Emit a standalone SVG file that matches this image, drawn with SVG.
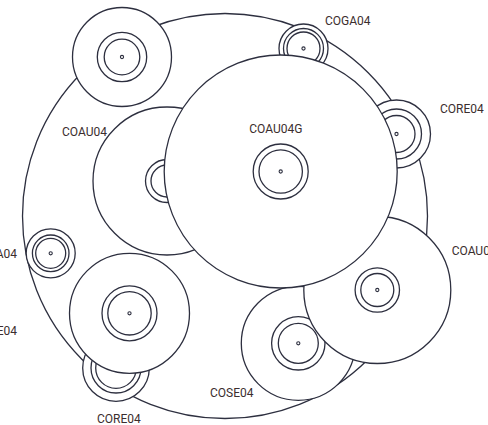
<svg xmlns="http://www.w3.org/2000/svg" width="488" height="425" viewBox="0 0 488 425">
<style>
.c{fill:#fff;stroke:#2d2f3f;stroke-width:1.3}
.d{fill:#fff;stroke:#2d2f3f;stroke-width:1.1}
.t{font-family:Roboto,"Liberation Sans",sans-serif;font-size:12px;font-weight:400;fill:#3b2e2e}
</style>
<rect width="488" height="425" fill="#fff"/>
<g id="edges"></g>
<g id="outer"><circle class="c" cx="225" cy="216" r="202.5"/></g>
<g id="n-top-left">
<circle class="c" cx="122" cy="57" r="49.5"/><circle class="c" cx="122" cy="57" r="24.7"/><circle class="c" cx="122" cy="57" r="17.8"/><circle class="d" cx="122" cy="57" r="1.6"/>
</g>
<g id="n-coga04">
<circle class="c" cx="303.5" cy="48.5" r="24.5"/><circle class="c" cx="303.5" cy="48.5" r="20"/><circle class="c" cx="303.5" cy="48.5" r="16.5"/><circle class="d" cx="303.5" cy="48.5" r="1.6"/>
<text class="t" x="325" y="25">COGA04</text>
</g>
<g id="n-core04-right">
<circle class="c" cx="396.5" cy="134" r="34"/><circle class="c" cx="396.5" cy="134" r="25"/><circle class="c" cx="396.5" cy="134" r="18.5"/><circle class="d" cx="396.5" cy="134" r="1.6"/>
<text class="t" x="440" y="113">CORE04</text>
</g>
<g id="n-coau04">
<circle class="c" cx="167" cy="181" r="74"/><circle class="c" cx="167" cy="181" r="21.5"/><circle class="c" cx="167" cy="181" r="16"/><circle class="d" cx="167" cy="181" r="1.6"/>
<text class="t" x="62" y="136">COAU04</text>
</g>
<g id="n-coga04-left">
<circle class="c" cx="50.7" cy="253.3" r="24.5"/><circle class="c" cx="50.7" cy="253.3" r="18.3"/><circle class="c" cx="50.7" cy="253.3" r="15"/><circle class="d" cx="50.7" cy="253.3" r="1.6"/>
<text class="t" x="17" y="258.3" text-anchor="end">COGA04</text>
</g>
<g id="n-core04-bottom">
<circle class="c" cx="116" cy="368" r="33.3"/><circle class="c" cx="116" cy="368" r="25"/><circle class="c" cx="116" cy="368" r="20.3"/><circle class="d" cx="116" cy="370" r="1.6"/>
<text class="t" x="97" y="423">CORE04</text>
</g>
<g id="n-core04-left">
<circle class="c" cx="129.5" cy="313.3" r="60"/><circle class="c" cx="129.5" cy="313.3" r="27.5"/><circle class="c" cx="129.5" cy="313.3" r="21.7"/><circle class="d" cx="129.5" cy="313.3" r="1.6"/>
<text class="t" x="17" y="335" text-anchor="end">CORE04</text>
</g>
<g id="n-cose04">
<circle class="c" cx="298.3" cy="343.3" r="57"/><circle class="c" cx="298.3" cy="343.3" r="26.7"/><circle class="c" cx="298.3" cy="343.3" r="20"/><circle class="d" cx="298.3" cy="343.3" r="1.6"/>
<text class="t" x="210" y="397.3">COSE04</text>
</g>
<g id="n-coau0">
<circle class="c" cx="377.3" cy="290" r="73.5"/><circle class="c" cx="377.3" cy="290" r="22.2"/><circle class="c" cx="377.3" cy="290" r="16.5"/><circle class="d" cx="377.3" cy="290" r="1.6"/>
<text class="t" x="451.7" y="255">COAU04</text>
</g>
<g id="n-coau04g">
<circle class="c" cx="280.7" cy="171.5" r="116.5"/><circle class="c" cx="280.7" cy="171.5" r="27.5"/><circle class="c" cx="280.7" cy="171.5" r="21.7"/><circle class="d" cx="280.7" cy="171.5" r="1.6"/>
<text class="t" x="249.3" y="132.7">COAU04G</text>
</g>
</svg>
